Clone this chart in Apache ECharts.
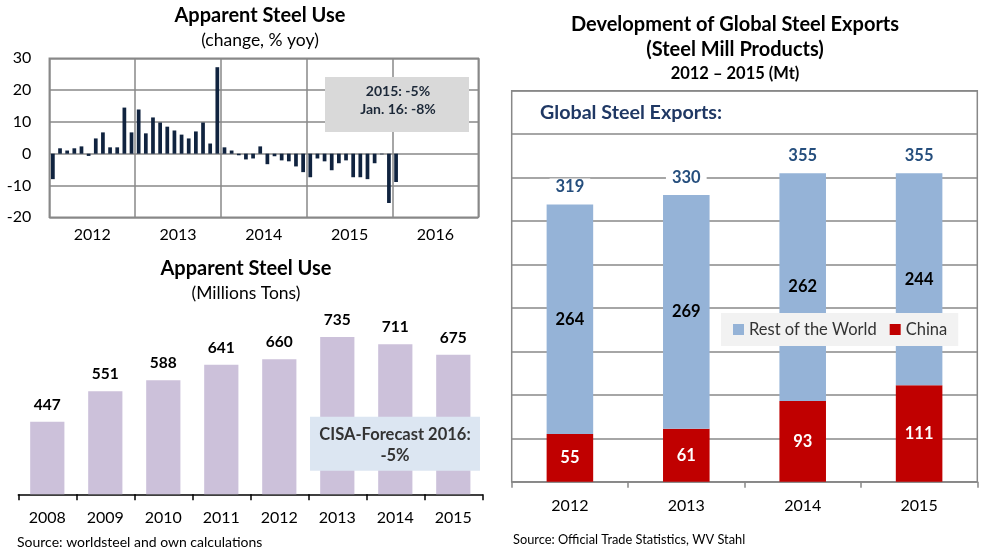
<!DOCTYPE html>
<html>
<head>
<meta charset="utf-8">
<script src="https://cdn.jsdelivr.net/npm/echarts@6/dist/echarts.min.js"></script>
<style>
html,body{margin:0;padding:0;background:#fff;}
#chart{width:988px;height:552px;}
</style>
</head>
<body>
<div id="chart"></div>
<script>
// ---- Data: Apparent Steel Use, change % yoy (monthly, Jan 2012 - Jan 2016)
const yoyYears = ['2012', '2013', '2014', '2015', '2016'];
const monthNames = ['Jan','Feb','Mar','Apr','May','Jun','Jul','Aug','Sep','Oct','Nov','Dec'];
const yoyChange = [
  -8.0, 1.7, 1.0, 1.7, 2.3, -0.7, 4.8, 6.7, 2.0, 2.0, 14.5, 6.7,
  13.9, 6.4, 11.4, 9.8, 8.5, 7.3, 6.0, 4.8, 7.0, 9.8, 3.2, 27.2,
  2.0, 1.0, -0.5, -1.8, -1.5, 2.3, -3.3, -0.8, -2.1, -2.4, -4.0, -5.8,
  -7.4, -1.5, -2.4, -5.2, -3.0, -2.1, -7.4, -7.4, -8.0, -3.0, -0.2, -15.5,
  -8.9
];
const yoyTicks = [-20, -10, 0, 10, 20, 30];

// ---- Data: Apparent Steel Use (Millions Tons)
const useYears = ['2008', '2009', '2010', '2011', '2012', '2013', '2014', '2015'];
const useValues = [447, 551, 588, 641, 660, 735, 711, 675];

// ---- Data: Global Steel Exports (Mt)
const exportYears = ['2012', '2013', '2014', '2015'];
const chinaExports = [55, 61, 93, 111];
const rowExports = [264, 269, 262, 244];

const monthCats = [];
yoyYears.forEach(y => monthNames.forEach(m => monthCats.push(m + ' ' + y)));
const exportTotals = chinaExports.map((c, i) => c + rowExports[i]);

const FONT = 'Lato, "Liberation Sans", sans-serif';
const chart = echarts.init(document.getElementById('chart'), null, {renderer: 'canvas'});

function txt(x, y, text, size, weight, fill, align) {
  return {
    type: 'text', x: x, y: y, z: 100,
    style: {
      text: text, fill: fill || '#000',
      font: (weight || 'normal') + ' ' + size + 'px ' + FONT,
      textAlign: align || 'center', textVerticalAlign: 'middle'
    }
  };
}

const option = {
  animation: false,
  backgroundColor: '#fff',
  textStyle: {fontFamily: FONT},
  grid: [
    {left: 49.3, top: 58.3, width: 429, height: 159, show: true, borderColor: '#888', borderWidth: 1.5, containLabel: false},
    {left: 18.3, top: 318, width: 464, height: 176.3, containLabel: false},
    {left: 511.7, top: 90.7, width: 465.6, height: 391, show: true, borderColor: '#888', borderWidth: 1.5, containLabel: false}
  ],
  xAxis: [
    {type: 'category', gridIndex: 0, data: monthCats, show: false},
    {type: 'category', gridIndex: 0, data: yoyYears, position: 'bottom',
      axisLine: {show: false}, axisTick: {show: false},
      axisLabel: {color: '#000', fontSize: 16, margin: 10, fontFamily: FONT},
      splitLine: {show: true, interval: 0, lineStyle: {color: '#888', width: 1.5}}},
    {type: 'category', gridIndex: 1, data: useYears,
      axisLine: {show: true, lineStyle: {color: '#000', width: 1.5}},
      axisTick: {show: true, length: 6, lineStyle: {color: '#000', width: 1.5}},
      axisLabel: {color: '#000', fontSize: 16, margin: 16, fontFamily: FONT},
      splitLine: {show: false}},
    {type: 'category', gridIndex: 2, data: exportYears,
      axisLine: {show: true, lineStyle: {color: '#888', width: 1.5}},
      axisTick: {show: true, length: 6, lineStyle: {color: '#888', width: 1.5}},
      axisLabel: {color: '#000', fontSize: 16, margin: 16, fontFamily: FONT},
      splitLine: {show: false}}
  ],
  yAxis: [
    {type: 'value', gridIndex: 0, min: yoyTicks[0], max: yoyTicks[yoyTicks.length - 1], interval: 10,
      axisLine: {show: false}, axisTick: {show: false},
      axisLabel: {color: '#000', fontSize: 16, margin: 18, fontFamily: FONT},
      splitLine: {show: true, lineStyle: {color: '#888', width: 1.5}}},
    {type: 'value', gridIndex: 1, min: 200, max: 800, show: false, splitLine: {show: false}},
    {type: 'value', gridIndex: 2, min: 0, max: 450, interval: 50,
      axisLine: {show: false}, axisTick: {show: false}, axisLabel: {show: false},
      splitLine: {show: true, lineStyle: {color: '#888', width: 1.5}}}
  ],
  legend: {
    data: ['Rest of the World', 'China'],
    left: 721, top: 313,
    backgroundColor: '#f2f2f2',
    padding: [8, 11, 8, 12],
    itemWidth: 11, itemHeight: 11, itemGap: 13, icon: 'rect',
    textStyle: {fontSize: 16.5, color: '#333', fontFamily: FONT}
  },
  series: [
    {type: 'bar', name: 'yoy', xAxisIndex: 0, yAxisIndex: 0, data: yoyChange,
      barWidth: '52%', itemStyle: {color: '#10233f'}},
    {type: 'bar', name: 'use', xAxisIndex: 2, yAxisIndex: 1, data: useValues,
      barWidth: '59%', itemStyle: {color: '#ccc1da'},
      label: {show: true, position: 'top', distance: 9, color: '#000', fontWeight: 'bold', fontSize: 15.5, fontFamily: FONT}},
    {type: 'bar', name: 'China', xAxisIndex: 3, yAxisIndex: 2, stack: 'exp', data: chinaExports,
      barWidth: '40%', barGap: '-100%', itemStyle: {color: '#c00000'},
      label: {show: true, position: 'inside', color: '#fff', fontWeight: 'bold', fontSize: 16.5, fontFamily: FONT}},
    {type: 'bar', name: 'Rest of the World', xAxisIndex: 3, yAxisIndex: 2, stack: 'exp', data: rowExports,
      barWidth: '40%', barGap: '-100%', itemStyle: {color: '#95b3d7'},
      label: {show: true, position: 'inside', color: '#000', fontWeight: 'bold', fontSize: 16.5, fontFamily: FONT}},
    {type: 'bar', name: 'total', xAxisIndex: 3, yAxisIndex: 2, data: exportTotals,
      barWidth: '40%', barGap: '-100%', itemStyle: {color: 'rgba(0,0,0,0)'}, z: 5,
      label: {show: true, position: 'top', distance: 9, color: '#254e7d', fontWeight: 'bold', fontSize: 16.5,
        fontFamily: FONT, backgroundColor: '#fff', padding: [0, 6]}}
  ],
  graphic: [
    txt(260, 16, 'Apparent Steel Use', 20, 'bold'),
    txt(260, 40, '(change, % yoy)', 17.5),
    {type: 'rect', z: 90, shape: {x: 325, y: 77, width: 144, height: 55}, style: {fill: '#d9d9d9'}},
    txt(398, 91, '2015: -5%', 14, 'bold', '#1c2838'),
    txt(398, 109.5, 'Jan. 16: -8%', 14, 'bold', '#1c2838'),
    txt(246, 269, 'Apparent Steel Use', 20, 'bold'),
    txt(246, 293, '(Millions Tons)', 17.5),
    {type: 'rect', z: 90, shape: {x: 310, y: 416.7, width: 170, height: 54}, style: {fill: '#dce6f2'}},
    txt(395, 434.5, 'CISA-Forecast 2016:', 16.5, 'bold', '#333'),
    txt(395, 456, '-5%', 16.5, 'bold', '#333'),
    txt(17, 542, 'Source: worldsteel and own calculations', 14, 'normal', '#000', 'left'),
    txt(735, 25, 'Development of Global Steel Exports', 20, 'bold'),
    txt(735, 50, '(Steel Mill Products)', 20, 'bold'),
    txt(735, 74, '2012 \u2013 2015 (Mt)', 16.5, 'bold'),
    txt(540, 113, 'Global Steel Exports:', 19.7, 'bold', '#1f3864', 'left'),
    txt(513, 540, 'Source: Official Trade Statistics, WV Stahl', 12.8, 'normal', '#000', 'left')
  ]
};
chart.setOption(option);
</script>
</body>
</html>
